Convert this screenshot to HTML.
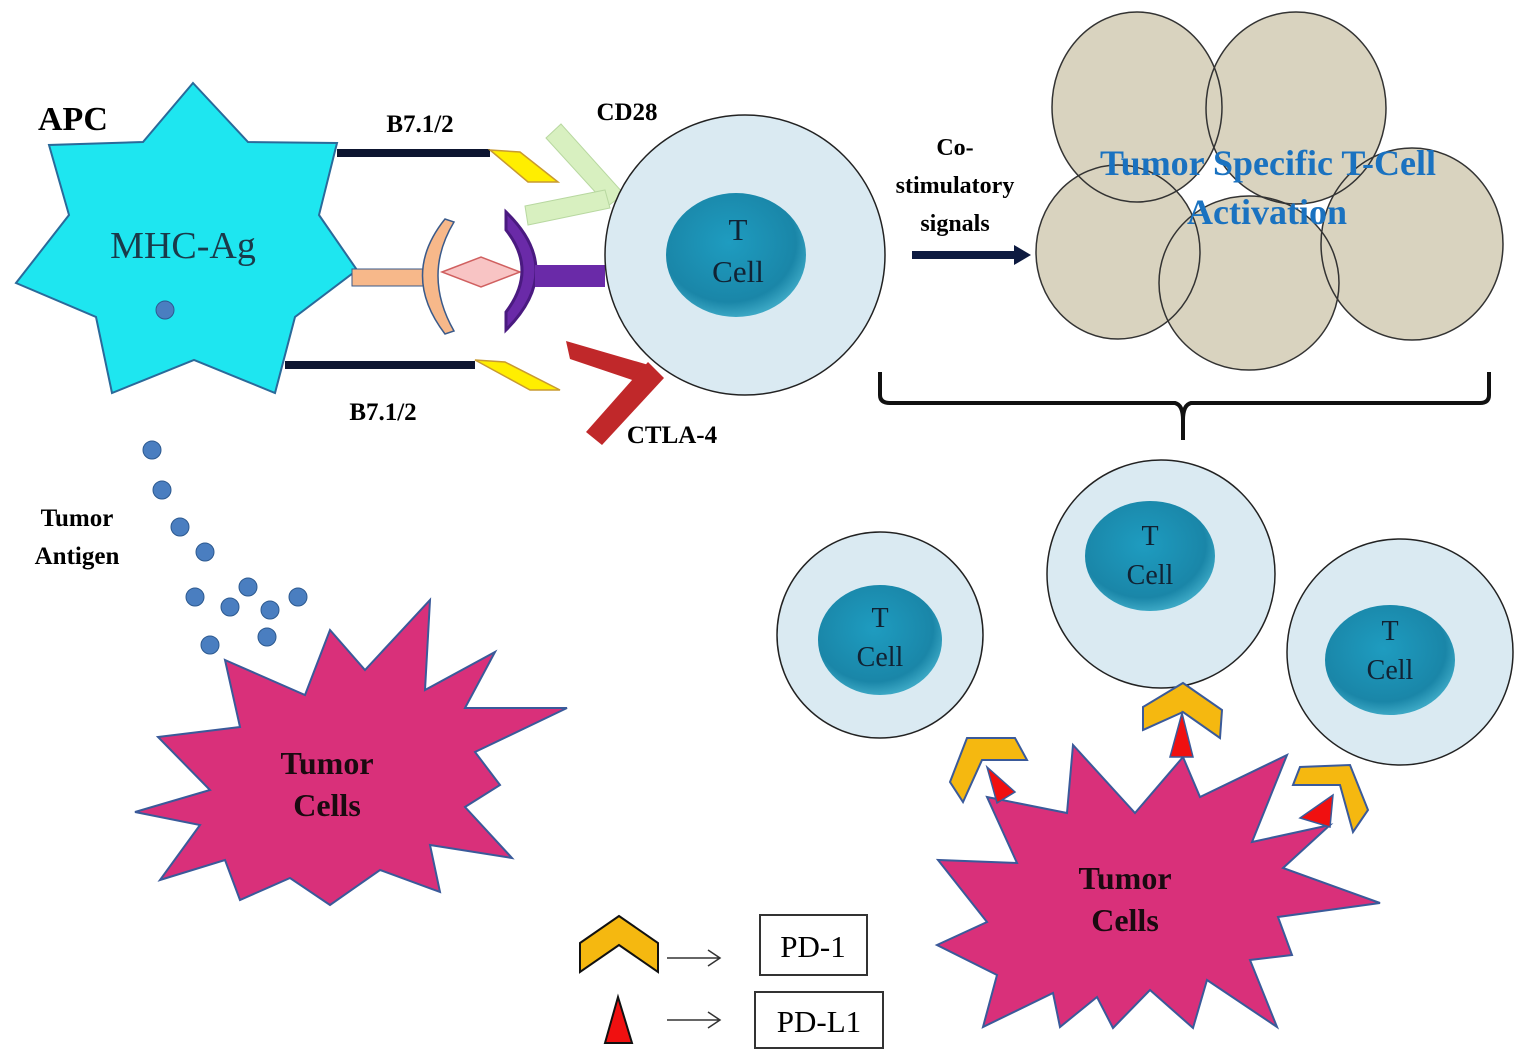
<!DOCTYPE html>
<html><head><meta charset="utf-8"><style>
html,body{margin:0;padding:0;background:#fff}
svg{display:block}
text{font-family:"Liberation Serif",serif}
.b{font-weight:bold}
</style></head><body>
<svg width="1528" height="1064" viewBox="0 0 1528 1064" xmlns="http://www.w3.org/2000/svg">
<defs>
<radialGradient id="nuc" cx="45%" cy="40%" r="60%"><stop offset="0" stop-color="#1e9cc0"/><stop offset="0.8" stop-color="#1a86a8"/><stop offset="1" stop-color="#3ba7c4"/></radialGradient>
</defs>
<!-- APC -->
<polygon points="193,83 248,142 337,143 319,215 357,270 295,317 275,393 194,360 112,393 96,317 16,283 69,215 49,145 143,142" fill="#1ee6f0" stroke="#2a6a9a" stroke-width="2"/>
<text x="38" y="130" font-size="34" class="b">APC</text>
<text x="183" y="258" font-size="38" text-anchor="middle" fill="#1a3a4a">MHC-Ag</text>
<circle cx="165" cy="310" r="9" fill="#4a7ec0" stroke="#2d5a90"/>
<!-- bars -->
<rect x="337" y="149" width="153" height="8" fill="#0d1530"/>
<polygon points="490,150 520,152 558,182 528,182" fill="#ffee00" stroke="#c89a30" stroke-width="1.5"/>
<rect x="285" y="361" width="190" height="8" fill="#0d1530"/>
<polygon points="475,360 505,362 560,390 530,390" fill="#ffee00" stroke="#c89a30" stroke-width="1.5"/>
<text x="420" y="132" font-size="25" class="b" text-anchor="middle">B7.1/2</text>
<text x="383" y="420" font-size="25" class="b" text-anchor="middle">B7.1/2</text>
<!-- MHC -->
<rect x="352" y="269" width="72" height="17" fill="#f7b88a" stroke="#3a5a8a" stroke-width="1"/>
<path d="M445,219 Q400,275 445,334 L454,331 Q422,275 454,222 Z" fill="#f7b88a" stroke="#3a5a8a" stroke-width="1.5"/>
<polygon points="442,272 481,257 520,272 481,287" fill="#f8c4c4" stroke="#d06060" stroke-width="1.5"/>
<path d="M506,212 Q566,270 506,330 L506,312 Q538,270 506,230 Z" fill="#6a2aa8" stroke="#4a1a80" stroke-width="3"/>
<rect x="535" y="265" width="70" height="22" fill="#6a2aa8"/>
<!-- CD28 -->
<polygon points="546,138 561,124 624,194 608,206" fill="#d8f0c0" stroke="#b8d8a0"/>
<polygon points="525,206 605,190 610,208 528,225" fill="#d8f0c0" stroke="#b8d8a0"/>
<text x="627" y="120" font-size="25" class="b" text-anchor="middle">CD28</text>
<!-- T cell big -->
<circle cx="745" cy="255" r="140" fill="#daeaf2" stroke="#222" stroke-width="1.5"/>
<ellipse cx="736" cy="255" rx="70" ry="62" fill="url(#nuc)"/>
<text x="738" y="240" font-size="31" text-anchor="middle" fill="#123">T</text>
<text x="738" y="282" font-size="31" text-anchor="middle" fill="#123">Cell</text>
<!-- CTLA-4 -->
<polygon points="566,341 570,359 644,384 652,366" fill="#c0282a"/>
<polygon points="648,362 664,378 602,445 586,432" fill="#c0282a"/>
<text x="672" y="443" font-size="25" class="b" text-anchor="middle">CTLA-4</text>
<!-- arrow -->
<rect x="912" y="251" width="105" height="8" fill="#0d1a40"/>
<polygon points="1014,245 1031,255 1014,265" fill="#0d1a40"/>
<text x="955" y="155" font-size="24" class="b" text-anchor="middle">Co-</text>
<text x="955" y="193" font-size="24" class="b" text-anchor="middle">stimulatory</text>
<text x="955" y="231" font-size="24" class="b" text-anchor="middle">signals</text>
<!-- cluster -->
<g fill="#d9d3bf">
<ellipse cx="1118" cy="252" rx="82" ry="87"/><ellipse cx="1249" cy="283" rx="90" ry="87"/><ellipse cx="1412" cy="244" rx="91" ry="96"/><ellipse cx="1137" cy="107" rx="85" ry="95"/><ellipse cx="1296" cy="108" rx="90" ry="96"/>
</g>
<g fill="none" stroke="#333" stroke-width="1.5">
<ellipse cx="1118" cy="252" rx="82" ry="87"/><ellipse cx="1249" cy="283" rx="90" ry="87"/><ellipse cx="1412" cy="244" rx="91" ry="96"/><ellipse cx="1137" cy="107" rx="85" ry="95"/><ellipse cx="1296" cy="108" rx="90" ry="96"/>
</g>
<text x="1268" y="175" font-size="36" class="b" text-anchor="middle" fill="#1a72c0">Tumor Specific T-Cell</text>
<text x="1267" y="224" font-size="36" class="b" text-anchor="middle" fill="#1a72c0">Activation</text>
<!-- brace -->
<path d="M880,372 L880,395 Q880,403 890,403 L1175,403 Q1183,405 1183,420 L1183,440 M1183,420 Q1183,405 1191,403 L1480,403 Q1489,403 1489,395 L1489,372" fill="none" stroke="#111" stroke-width="4"/>
<!-- antigen dots -->
<g fill="#4a7ec0" stroke="#2d5a90">
<circle cx="152" cy="450" r="9"/><circle cx="162" cy="490" r="9"/><circle cx="180" cy="527" r="9"/><circle cx="205" cy="552" r="9"/><circle cx="195" cy="597" r="9"/><circle cx="230" cy="607" r="9"/><circle cx="248" cy="587" r="9"/><circle cx="270" cy="610" r="9"/><circle cx="298" cy="597" r="9"/><circle cx="210" cy="645" r="9"/><circle cx="267" cy="637" r="9"/>
</g>
<text x="77" y="526" font-size="25" class="b" text-anchor="middle">Tumor</text>
<text x="77" y="564" font-size="25" class="b" text-anchor="middle">Antigen</text>
<!-- left tumor -->
<polygon points="225,660 305,695 330,630 365,670 430,600 425,690 495,652 465,708 567,708 475,752 500,785 465,807 512,858 430,845 440,892 380,870 330,905 290,878 240,900 225,860 160,880 200,825 135,812 210,790 158,737 240,727" fill="#d9307a" stroke="#3a5a9a" stroke-width="2"/>
<text x="327" y="774" font-size="32" class="b" text-anchor="middle" fill="#1a0a10">Tumor</text>
<text x="327" y="816" font-size="32" class="b" text-anchor="middle" fill="#1a0a10">Cells</text>
<!-- small T cells -->
<circle cx="880" cy="635" r="103" fill="#daeaf2" stroke="#222" stroke-width="1.5"/>
<ellipse cx="880" cy="640" rx="62" ry="55" fill="url(#nuc)"/>
<text x="880" y="627" font-size="28" text-anchor="middle" fill="#123">T</text>
<text x="880" y="666" font-size="28" text-anchor="middle" fill="#123">Cell</text>
<circle cx="1161" cy="574" r="114" fill="#daeaf2" stroke="#222" stroke-width="1.5"/>
<ellipse cx="1150" cy="556" rx="65" ry="55" fill="url(#nuc)"/>
<text x="1150" y="545" font-size="28" text-anchor="middle" fill="#123">T</text>
<text x="1150" y="584" font-size="28" text-anchor="middle" fill="#123">Cell</text>
<circle cx="1400" cy="652" r="113" fill="#daeaf2" stroke="#222" stroke-width="1.5"/>
<ellipse cx="1390" cy="660" rx="65" ry="55" fill="url(#nuc)"/>
<text x="1390" y="640" font-size="28" text-anchor="middle" fill="#123">T</text>
<text x="1390" y="679" font-size="28" text-anchor="middle" fill="#123">Cell</text>
<!-- right tumor -->
<polygon points="987,797 1067,813 1073,745 1135,813 1183,757 1200,797 1287,755 1252,842 1330,825 1283,868 1380,903 1278,917 1292,955 1250,960 1277,1027 1207,980 1193,1028 1150,990 1113,1028 1097,997 1060,1027 1053,993 983,1027 997,975 937,945 987,922 938,860 1017,863" fill="#d9307a" stroke="#3a5a9a" stroke-width="2"/>
<text x="1125" y="889" font-size="32" class="b" text-anchor="middle" fill="#1a0a10">Tumor</text>
<text x="1125" y="931" font-size="32" class="b" text-anchor="middle" fill="#1a0a10">Cells</text>
<!-- PD-1/PD-L1 -->
<g fill="#f5b810" stroke="#3a5a9a" stroke-width="2">
<polygon points="950,782 967,738 1015,738 1027,760 982,760 963,802"/>
<polygon points="1143,730 1143,707 1183,683 1222,710 1220,738 1183,712"/>
<polygon points="1293,785 1300,767 1350,765 1368,810 1353,832 1340,785"/>
</g>
<g fill="#f01010" stroke="#3a5a9a" stroke-width="1.5">
<polygon points="987,767 1015,792 997,803"/>
<polygon points="1182,713 1170,757 1193,757"/>
<polygon points="1333,795 1300,818 1330,827"/>
</g>
<!-- legend -->
<polygon points="580,943 619,916 658,943 658,972 619,945 580,972" fill="#f5b810" stroke="#111" stroke-width="2"/>
<path d="M667,958 L720,958 M708,950 L720,958 L708,966" fill="none" stroke="#333" stroke-width="1.5"/>
<rect x="760" y="915" width="107" height="60" fill="#fff" stroke="#333" stroke-width="2"/>
<text x="813" y="957" font-size="31" text-anchor="middle">PD-1</text>
<polygon points="605,1043 618,997 632,1043" fill="#f01010" stroke="#111" stroke-width="2"/>
<path d="M667,1020 L720,1020 M708,1012 L720,1020 L708,1028" fill="none" stroke="#333" stroke-width="1.5"/>
<rect x="755" y="992" width="128" height="56" fill="#fff" stroke="#333" stroke-width="2"/>
<text x="819" y="1032" font-size="31" text-anchor="middle">PD-L1</text>
</svg>
</body></html>
